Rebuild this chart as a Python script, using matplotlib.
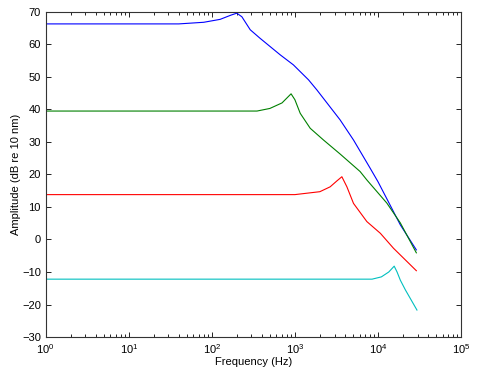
import matplotlib
matplotlib.use("Agg")
import matplotlib.pyplot as plt
from matplotlib.ticker import LogLocator

plt.rcParams['font.family'] = ['Liberation Sans', 'DejaVu Sans']
plt.rcParams['mathtext.default'] = 'regular'

# curves (frequency in Hz, amplitude in dB)
blue_f = [1, 40, 80, 126, 170, 200, 230, 290, 380, 665, 960, 1460, 1840, 3500,
          5080, 8070, 10000, 14000, 18600, 29000]
blue_a = [66.3, 66.3, 66.8, 67.7, 69.0, 69.6, 68.5, 64.5, 61.9, 56.8, 53.7, 49.1,
          46.0, 36.8, 30.6, 21.9, 17.8, 10.6, 4.5, -3.2]

green_f = [1, 350, 500, 700, 900, 1000, 1160, 1530, 2210, 3500, 6100, 7360,
           12800, 18600, 29000]
green_a = [39.5, 39.5, 40.3, 42.0, 44.8, 43.0, 38.8, 34.2, 30.6, 26.3, 20.9, 18.3,
           11.2, 5.1, -4.1]

red_f = [1, 1000, 2000, 2660, 3200, 3680, 4230, 5080, 7360, 10700, 15400, 29000]
red_a = [13.8, 13.8, 14.7, 16.2, 18.0, 19.3, 16.2, 11.1, 5.5, 1.9, -2.7, -9.6]

cyan_f = [1, 8500, 11000, 13500, 15700, 17000, 18600, 21400, 29500]
cyan_a = [-12.2, -12.2, -11.5, -10.0, -8.2, -10.0, -12.5, -15.5, -21.7]

fig = plt.figure(figsize=(4.79, 3.83), dpi=100)
ax = fig.add_axes([0.0954, 0.120, 0.867, 0.849])

ax.plot(blue_f, blue_a, color='#0000ff', lw=0.8)
ax.plot(green_f, green_a, color='#008000', lw=0.8)
ax.plot(red_f, red_a, color='#ff0000', lw=0.8)
ax.plot(cyan_f, cyan_a, color='#00bfbf', lw=0.8)

ax.set_xscale('log')
ax.set_xlim(1, 1e5)
ax.set_ylim(-30, 70)
ax.set_yticks(range(-30, 71, 10))
ax.xaxis.set_major_locator(LogLocator(base=10, numticks=10))
ax.xaxis.set_minor_locator(LogLocator(base=10, subs=range(2, 10), numticks=20))

ax.tick_params(which='both', direction='in', top=True, right=True, labelsize=8)
ax.tick_params(which='major', length=3.5, width=0.6)
ax.tick_params(which='minor', length=2, width=0.6)
for s in ax.spines.values():
    s.set_linewidth(0.8)
    s.set_color('#333333')

ax.set_xlabel('Frequency (Hz)', fontsize=8, labelpad=1)
ax.set_ylabel('Amplitude (dB re 10 nm)', fontsize=8, labelpad=1)

fig.savefig('out.png', dpi=100)
